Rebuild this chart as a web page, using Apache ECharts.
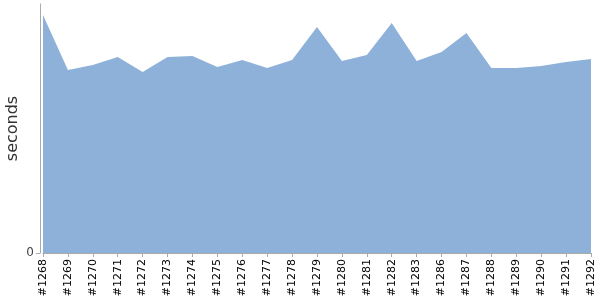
<!DOCTYPE html>
<html><head><meta charset="utf-8">
<script src="https://cdn.jsdelivr.net/npm/echarts@6/dist/echarts.min.js"></script>
<style>html,body{margin:0;padding:0;background:#fff}#c{width:600px;height:300px}</style>
</head><body><div id="c"></div>
<script>
const categories = ['#1268','#1269','#1270','#1271','#1272','#1273','#1274','#1275','#1276','#1277','#1278','#1279','#1280','#1281','#1282','#1283','#1286','#1287','#1288','#1289','#1290','#1291','#1292'];
const seconds = [238,183,188,196,181,196,197,186,193,185,193,226,192,198,230,192,201,220,185,185,187,191,194];
const yTicks = [0];
const yMax = 249;

const chart = echarts.init(document.getElementById('c'), null, {renderer:'canvas'});
chart.setOption({
  animation:false,
  grid:{left:43,right:9,top:4,bottom:47,containLabel:false,outerBoundsMode:'none'},
  xAxis:{
    type:'category', data:categories, boundaryGap:false,
    axisLine:{lineStyle:{color:'#aaaaaa'}},
    axisTick:{alignWithLabel:true,length:4,lineStyle:{color:'#aaaaaa'}},
    axisLabel:{rotate:90,fontSize:11,color:'#000',fontFamily:'DejaVu Sans',margin:6,interval:0}
  },
  yAxis:{
    type:'value', min:0, max:yMax, offset:3,
    name:'seconds', nameLocation:'middle', nameGap:19, nameMoveOverlap:false,
    nameTextStyle:{fontSize:16,color:'#333',fontFamily:'DejaVu Sans'},
    axisLine:{show:true,lineStyle:{color:'#aaaaaa'}},
    axisTick:{show:true,length:4,customValues:yTicks,lineStyle:{color:'#aaaaaa'}},
    axisLabel:{customValues:yTicks,fontSize:12,color:'#444',fontFamily:'DejaVu Sans',margin:6},
    splitLine:{show:false}
  },
  series:[{
    type:'line', data:seconds, smooth:false, symbol:'none',
    lineStyle:{width:0,color:'#8eb1da'},
    areaStyle:{color:'#8eb1da',opacity:1}
  }]
});
</script></body></html>
